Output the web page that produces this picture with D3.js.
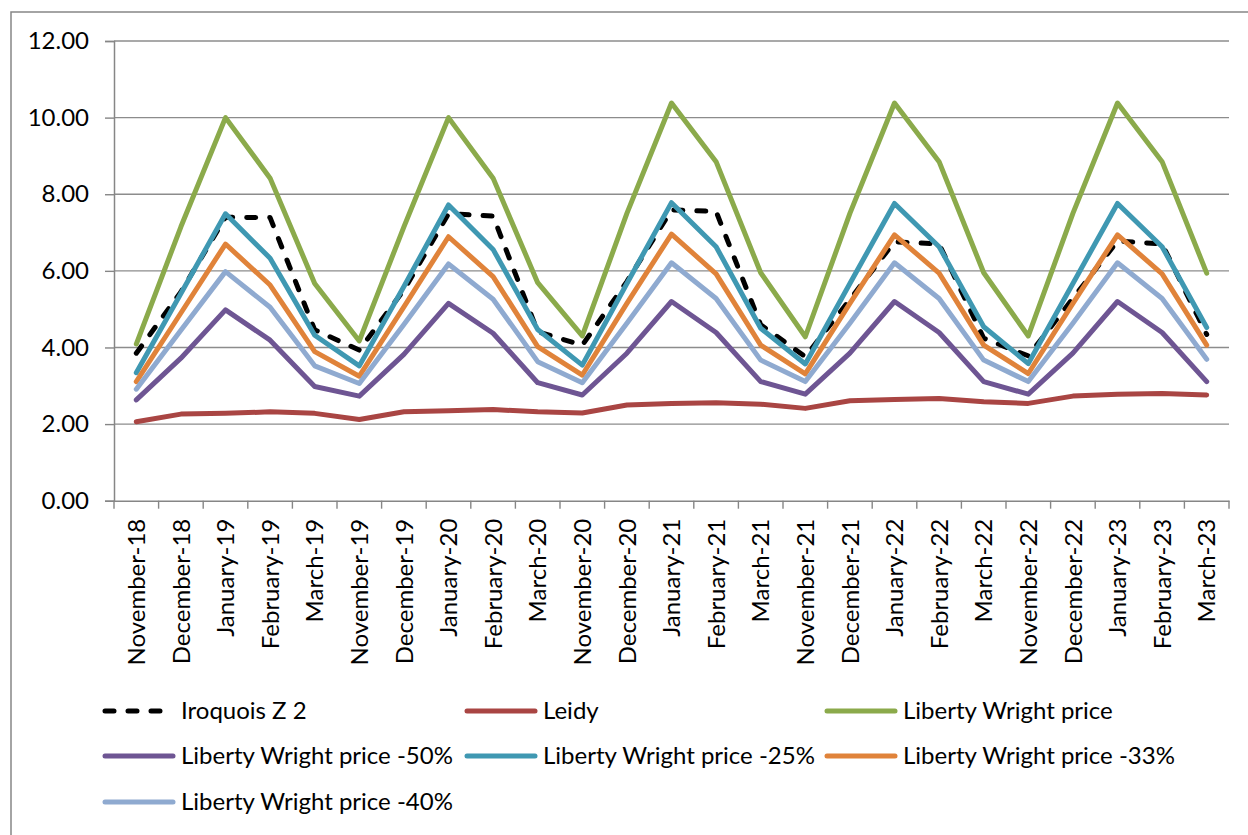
<!DOCTYPE html>
<html><head><meta charset="utf-8">
<script src="https://cdn.jsdelivr.net/npm/d3@7"></script>
<style>
html,body{margin:0;padding:0;background:#fff;}
text{font-family:Lato,"Open Sans",sans-serif;fill:#000;}
</style></head>
<body>
<svg id="chart" width="1248" height="835"></svg>
<script>
const categories = ["November-18","December-18","January-19","February-19","March-19",
 "November-19","December-19","January-20","February-20","March-20",
 "November-20","December-20","January-21","February-21","March-21",
 "November-21","December-21","January-22","February-22","March-22",
 "November-22","December-22","January-23","February-23","March-23"];

const iroquoisZ2 = [3.85,5.45,7.40,7.39,4.46, 3.93,5.50,7.49,7.43,4.41, 4.06,5.72,7.59,7.55,4.59, 3.76,5.25,6.76,6.70,4.24, 3.78,5.28,6.78,6.70,4.34];
const leidy      = [2.06,2.26,2.28,2.32,2.28, 2.12,2.32,2.35,2.38,2.32, 2.29,2.50,2.54,2.56,2.52, 2.41,2.61,2.64,2.67,2.58, 2.54,2.73,2.78,2.80,2.76];
const libertyWright = [4.09,7.15,10.00,8.42,5.67, 4.17,7.15,10.00,8.42,5.69, 4.30,7.50,10.38,8.85,5.95, 4.28,7.50,10.38,8.85,5.95, 4.30,7.50,10.38,8.85,5.94];
const lw50 = [2.63,3.72,4.98,4.19,2.98, 2.73,3.82,5.15,4.37,3.08, 2.76,3.85,5.20,4.39,3.11, 2.78,3.85,5.20,4.39,3.11, 2.78,3.85,5.20,4.39,3.11];
const lw25 = [3.34,5.41,7.49,6.33,4.32, 3.52,5.59,7.72,6.56,4.47, 3.54,5.67,7.78,6.63,4.50, 3.57,5.67,7.76,6.63,4.54, 3.58,5.67,7.76,6.63,4.52];
const lw33 = [3.11,4.90,6.70,5.63,3.89, 3.25,5.06,6.89,5.85,4.02, 3.28,5.15,6.96,5.92,4.06, 3.31,5.15,6.94,5.94,4.06, 3.32,5.15,6.94,5.92,4.06];
const lw40 = [2.91,4.45,5.98,5.05,3.52, 3.06,4.60,6.18,5.26,3.63, 3.08,4.63,6.21,5.28,3.67, 3.11,4.63,6.21,5.28,3.67, 3.11,4.63,6.21,5.28,3.69];

const seriesNames = ["Iroquois Z 2","Leidy","Liberty Wright price","Liberty Wright price -50%","Liberty Wright price -25%","Liberty Wright price -33%","Liberty Wright price -40%"];
const seriesValues = [iroquoisZ2, leidy, libertyWright, lw50, lw25, lw33, lw40];
const seriesColors = ["#000000","#A94543","#8BAA4B","#6E5593","#3F98B2","#E0833A","#8FAAD0"];
const yTicks = [0,2,4,6,8,10,12];

const svg = d3.select("#chart");
const plotLeft = 114, plotRight = 1229, plotTop = 41, plotBottom = 500.7;

// outer frame
svg.append("rect").attr("x",11).attr("y",12).attr("width",1400).attr("height",1000)
  .attr("fill","none").attr("stroke","#868686").attr("stroke-width",1.5);

const x = d3.scaleBand().domain(categories).range([plotLeft,plotRight]).padding(0);
const y = d3.scaleLinear().domain([0,12]).range([plotBottom,plotTop]);

// gridlines
svg.append("g").selectAll("line").data(yTicks.filter(d=>d>0)).join("line")
  .attr("x1",plotLeft).attr("x2",plotRight).attr("y1",d=>y(d)).attr("y2",d=>y(d))
  .attr("stroke","#8c8c8c").attr("stroke-width",1.4);

// y axis
const yAxis = d3.axisLeft(y).tickValues(yTicks).tickFormat(d3.format(".2f")).tickSize(9).tickPadding(16);
const gy = svg.append("g").attr("transform",`translate(${plotLeft},0)`).call(yAxis);
gy.select(".domain").attr("stroke","#868686").attr("stroke-width",1.5);
gy.selectAll(".tick line").attr("stroke","#868686").attr("stroke-width",1.4);
gy.selectAll(".tick text").attr("font-size",24).attr("font-family","Lato").attr("fill","#000");

// x axis
const xAxis = d3.axisBottom(x).tickSize(0).tickFormat("");
const gx = svg.append("g").attr("transform",`translate(0,${plotBottom})`).call(xAxis);
gx.select(".domain").attr("stroke","#868686").attr("stroke-width",1.5);
const bounds = categories.map(c=>x(c)).concat([plotRight]);
gx.append("g").selectAll("line").data(bounds).join("line")
  .attr("x1",d=>d).attr("x2",d=>d).attr("y1",0).attr("y2",8)
  .attr("stroke","#868686").attr("stroke-width",1.4);
gx.append("g").selectAll("text").data(categories).join("text")
  .attr("transform",d=>`translate(${x(d)+x.bandwidth()/2},${18}) rotate(-90)`)
  .attr("text-anchor","end").attr("dy","0.36em")
  .attr("font-size",24).text(d=>d);

// lines
const line = d3.line().x((d,i)=>x(categories[i])+x.bandwidth()/2).y(d=>y(d));
seriesValues.forEach((vals,si)=>{
  svg.append("path").datum(vals).attr("d",line)
    .attr("fill","none").attr("stroke",seriesColors[si]).attr("stroke-width",5)
    .attr("stroke-linejoin","round").attr("stroke-linecap","round")
    .attr("stroke-dasharray", si===0 ? "9,14" : null);
});

// legend
const legendPos = [[103,711],[465,711],[825,711],[103,756],[465,756],[825,756],[103,802]];
const lg = svg.append("g");
seriesNames.forEach((name,i)=>{
  const [lx,ly] = legendPos[i];
  lg.append("line").attr("x1",lx+2).attr("x2",lx+70).attr("y1",ly).attr("y2",ly)
    .attr("stroke",seriesColors[i]).attr("stroke-width",5).attr("stroke-linecap","round")
    .attr("stroke-dasharray", i===0 ? "9,14" : null);
  lg.append("text").attr("x",lx+78).attr("y",ly).attr("dy","0.35em")
    .attr("font-size",24).text(name);
});
</script>
</body></html>
